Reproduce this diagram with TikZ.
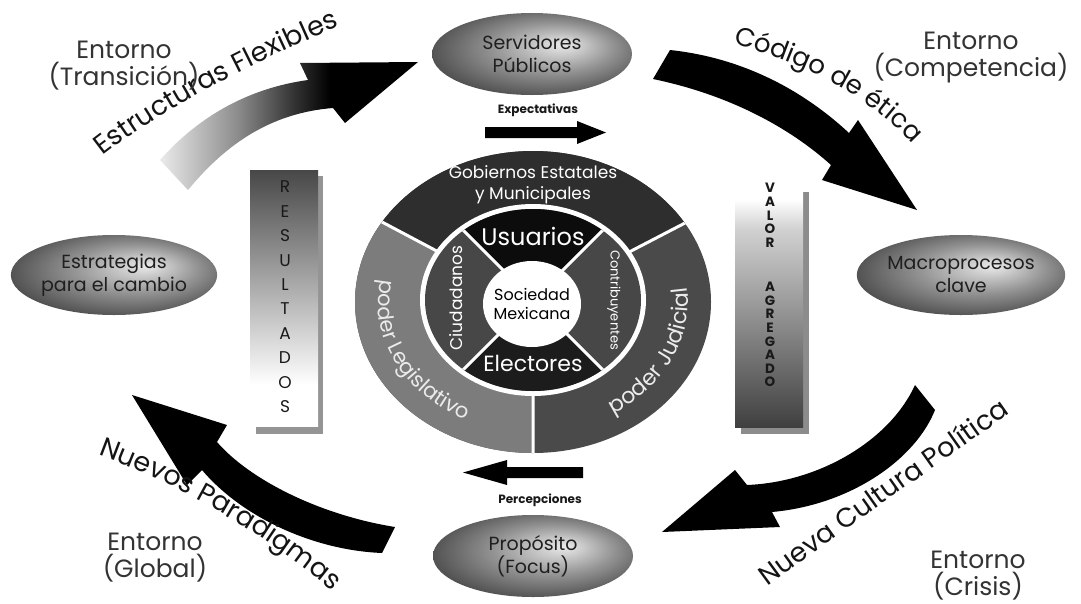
\documentclass[tikz,border=0pt]{standalone}
\usepackage{fontspec}
\setmainfont{Poppins}
\usetikzlibrary{shapes.geometric,decorations.text}

% shadings (the path's bounding box spans 25bp..75bp of each shading)
\pgfdeclareradialshading{btnshade}{\pgfpoint{8bp}{6bp}}{%
  color(0bp)=(black!8); color(7bp)=(black!24); color(15bp)=(black!42);
  color(24bp)=(black!60); color(32bp)=(black!76); color(42bp)=(black!76)}
\pgfdeclarehorizontalshading{fadearrow}{100bp}{%
  color(0bp)=(black!8); color(25bp)=(black!8); color(40bp)=(black!45);
  color(51bp)=(black!80); color(58bp)=(black); color(100bp)=(black)}
\pgfdeclareverticalshading{resgrad}{100bp}{%
  color(0bp)=(white); color(33bp)=(white); color(75bp)=(black!72); color(100bp)=(black!72)}
\pgfdeclareverticalshading{valgrad}{100bp}{%
  color(0bp)=(black!75); color(25bp)=(black!75); color(66bp)=(black!18);
  color(72bp)=(white); color(100bp)=(white)}

\definecolor{ringT}{HTML}{2E2E2E}
\definecolor{ringL}{HTML}{7C7C7C}
\definecolor{ringR}{HTML}{4A4A4A}
\definecolor{ringS}{HTML}{474747}
\definecolor{usu}{HTML}{0C0C0C}
\definecolor{ele}{HTML}{1C1C1C}

\begin{document}
\begin{tikzpicture}[x=1pt,y=-1pt,
  btn/.style={ellipse, shade, shading=btnshade, inner sep=0pt, text=black!88,
              align=center, font=\fontsize{19}{23}\selectfont},
  envtext/.style={align=center, text=black!80, font=\fontsize{25}{27}\selectfont, inner sep=0pt},
  ringtext/.style={text=white, inner sep=0pt, align=center},
  barletter/.style={inner sep=0pt, text=black!90},
  flowlabel/.style={font=\fontsize{12}{14}\selectfont\bfseries, inner sep=0pt, text=black!90},
  curvedlabel/.style={decorate, decoration={text along path, text align=center, text color=black!92}},
  arclabel/.style={decorate, decoration={text along path, text align=center, text color=black!8}}
]
\fill[white] (0,0) rectangle (1081,603);
\useasboundingbox (0,0) rectangle (1081,603);

% ---------- central wheel ----------
\coordinate (C) at (533,302);
\begin{scope}
  \clip (C) ellipse [x radius=178, y radius=151];
  \fill[ringR] (340,100) rectangle (730,470);
  \fill[ringL] (C) -- (231,142) -- (231,470) -- (533,470) -- cycle;
  \fill[ringT] (C) -- (231,142) -- (231,100) -- (837,100) -- (837,144) -- cycle;
  \draw[white, line width=3pt] (C) -- (231,142) (C) -- (837,144) (C) -- (533,470);
\end{scope}

\coordinate (C2) at (533,300);
\fill[white] (C2) ellipse [x radius=113, y radius=96];
\begin{scope}
  \clip (C2) ellipse [x radius=108, y radius=91];
  \fill[ringS] (420,205) rectangle (646,395);
  \fill[usu] (C2) -- (383,150) -- (683,150) -- cycle;
  \fill[ele] (C2) -- (383,450) -- (683,450) -- cycle;
  \draw[white, line width=3pt] (383,150) -- (683,450) (683,150) -- (383,450);
\end{scope}
\fill[white] (532,304) ellipse [x radius=49, y radius=43];

\node[ringtext, font=\fontsize{17}{21}\selectfont] (gobiernos) at (533,185) {Gobiernos Estatales\\y Municipales};
\node[ringtext, font=\fontsize{24}{26}\selectfont] (usuarios) at (533,236) {Usuarios};
\node[ringtext, font=\fontsize{22}{24}\selectfont] (electores) at (533,363) {Electores};
\node[ringtext, rotate=90, font=\fontsize{17}{20}\selectfont] (ciudadanos) at (456,298) {Ciudadanos};
\node[ringtext, rotate=-90, font=\fontsize{13}{15}\selectfont] (contribuyentes) at (614,300) {Contribuyentes};
\node[align=center, font=\fontsize{16}{19}\selectfont, inner sep=0pt] (sociedad) at (532,304) {Sociedad\\Mexicana};

\path[arclabel, decoration={text={|\fontsize{21}{24}\selectfont|poder Legislativo}}]
  (398.8,236.5) arc [start angle=-150, end angle=-262, x radius=155, y radius=131];
\path[arclabel, decoration={text={|\fontsize{22}{24}\selectfont|poder Judicial}}]
  (573.1,428.5) arc [start angle=-285, end angle=-385, x radius=155, y radius=131];

% ---------- side bars ----------
\fill[black!42] (256,176) rectangle (323,434);
\shade[shading=resgrad] (250,170) rectangle (318,426);
\foreach \ch [count=\i from 0] in {R,E,S,U,L,T,A,D,O,S}
  \node[barletter, font=\fontsize{17}{17}\selectfont] (res\i) at (285,187+24.4*\i) {\ch};

\fill[black!45] (741,192) rectangle (809,434);
\shade[shading=valgrad] (735,185) rectangle (803,427);
\foreach \ch [count=\i from 0] in {V,A,L,O,R}
  \node[barletter, font=\fontsize{13.5}{14}\selectfont\bfseries] (vala\i) at (770,188+13.7*\i) {\ch};
\foreach \ch [count=\i from 0] in {A,G,R,E,G,A,D,O}
  \node[barletter, font=\fontsize{13.5}{14}\selectfont\bfseries] (valb\i) at (770,287+13.6*\i) {\ch};

% ---------- cycle arrows ----------
\shade[shading=fadearrow] (160,160) .. controls (200,115) and (250,88) .. (308,80)
  -- (300,63) -- (418,62) -- (345,123) -- (333,108)
  .. controls (270,113) and (225,145) .. (188,190) -- cycle;
\fill[black] (670,50) .. controls (745,58) and (805,92) .. (849,133)
  -- (858,120) -- (917,210) -- (822,180) -- (831,165)
  .. controls (790,128) and (730,95) .. (653,79) -- cycle;
\fill[black] (915,385) .. controls (890,440) and (820,482) .. (747,485)
  -- (735,470) -- (662,532) -- (780,527) -- (772,512)
  .. controls (850,505) and (915,460) .. (935,410) -- cycle;
\fill[black] (395,527) .. controls (320,515) and (250,480) .. (217,442)
  -- (227,425) -- (132,395) -- (187,485) -- (202,470)
  .. controls (240,515) and (310,550) .. (382,553) -- cycle;

\path[curvedlabel, decoration={text={|\fontsize{27}{30}\selectfont|Estructuras Flexibles}}]
  (94,163) .. controls (160,108) and (280,50) .. (350,22);
\path[curvedlabel, decoration={text={|\fontsize{26}{30}\selectfont|Código de ética}}]
  (725,41) .. controls (795,60) and (868,92) .. (918,150);
\path[curvedlabel, decoration={text={|\fontsize{27}{30}\selectfont|Nueva Cultura Política}}]
  (760,592) .. controls (830,540) and (930,470) .. (1018,408);
\path[curvedlabel, decoration={text={|\fontsize{27}{30}\selectfont|Nuevos Paradigmas}}]
  (91,452) .. controls (169,479) and (262,530) .. (338,596);

% ---------- flow arrows ----------
\node[flowlabel] (expect) at (538,110) {Expectativas};
\node[flowlabel] (percep) at (540,500) {Percepciones};
\fill[black] (485,127) -- (577,127) -- (577,121) -- (606,132.5) -- (577,144) -- (577,138) -- (485,138) -- cycle;
\fill[black] (583,467) -- (507,467) -- (507,460) -- (463,472.5) -- (507,485) -- (507,478) -- (583,478) -- cycle;

% ---------- oval buttons ----------
\node[btn, minimum width=200pt, minimum height=82pt] (servidores) at (532,54) {Servidores\\Públicos};
\node[btn, minimum width=202pt, minimum height=80pt] (estrategias) at (114,275) {Estrategias\\para el cambio};
\node[btn, minimum width=202pt, minimum height=80pt] (macro) at (961,275) {Macroprocesos\\clave};
\node[btn, minimum width=200pt, minimum height=82pt] (proposito) at (533,556) {Propósito\\(Focus)};

% ---------- environments ----------
\node[envtext] (envT) at (124,66) {Entorno\\(Transición)};
\node[envtext] (envC) at (971,58) {Entorno\\(Competencia)};
\node[envtext] (envG) at (155,558) {Entorno\\(Global)};
\node[envtext] (envK) at (978,576) {Entorno\\(Crisis)};
\end{tikzpicture}
\end{document}
